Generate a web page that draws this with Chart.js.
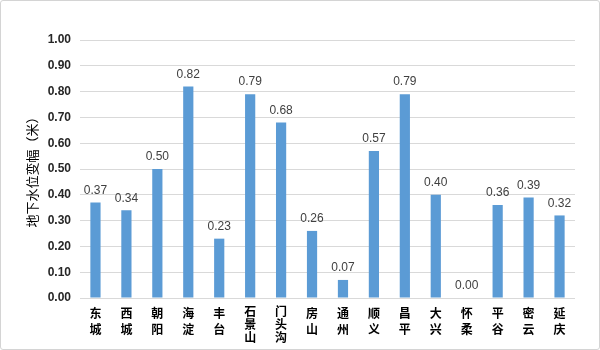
<!DOCTYPE html>
<html lang="zh">
<head>
    <meta charset="UTF-8">
    <title>地下水位变幅</title>
</head>
<body>

<div id="wrap">
    <canvas id="myChart"></canvas>
</div>

<script src="https://cdn.jsdelivr.net/npm/chart.js"></script>

<script>
    // 各区名称（竖排，每个字一行）
    const districts = [
        ['东', '城'], ['西', '城'], ['朝', '阳'], ['海', '淀'], ['丰', '台'],
        ['石', '景', '山'], ['门', '头', '沟'], ['房', '山'], ['通', '州'], ['顺', '义'],
        ['昌', '平'], ['大', '兴'], ['怀', '柔'], ['平', '谷'], ['密', '云'], ['延', '庆']
    ];
    const changes = [0.37, 0.34, 0.50, 0.82, 0.23, 0.79, 0.68, 0.26, 0.07, 0.57, 0.79, 0.40, 0.00, 0.36, 0.39, 0.32];
    const yTicks = [0, 0.1, 0.2, 0.3, 0.4, 0.5, 0.6, 0.7, 0.8, 0.9, 1.0];

    const cjk = '"Noto Sans CJK SC", "Microsoft YaHei", sans-serif';

    // 柱顶数值
    const valueLabels = {
        id: 'valueLabels',
        afterDatasetsDraw(chart) {
            const ctx = chart.ctx;
            const meta = chart.getDatasetMeta(0);
            ctx.save();
            ctx.font = '12px "Liberation Sans", Arial, sans-serif';
            ctx.fillStyle = '#404040';
            ctx.textAlign = 'center';
            ctx.textBaseline = 'bottom';
            meta.data.forEach((bar, i) => {
                ctx.fillText(changes[i].toFixed(2), bar.x, bar.y - 6);
            });
            ctx.restore();
        }
    };

    new Chart(document.getElementById('myChart'), {
        type: 'bar',
        data: {
            labels: districts,
            datasets: [{
                data: changes,
                backgroundColor: '#5B9BD5',
                categoryPercentage: 1,
                barPercentage: 0.33
            }]
        },
        options: {
            responsive: true,
            maintainAspectRatio: false,
            animation: false,
            layout: {padding: {left: 19, right: 24, top: 39, bottom: 0}},
            plugins: {
                legend: {display: false},
                tooltip: {enabled: false}
            },
            scales: {
                x: {
                    grid: {display: false, drawTicks: false},
                    border: {display: false},
                    ticks: {
                        color: '#000',
                        padding: 7,
                        maxRotation: 0,
                        autoSkip: false,
                        // 三字地名行距压紧
                        font: ctx => ({
                            family: cjk,
                            size: 12,
                            weight: 'bold',
                            lineHeight: districts[ctx.index].length > 2 ? '13px' : '16px'
                        })
                    },
                    afterFit(scale) { scale.height = 51; }
                },
                y: {
                    min: 0,
                    max: 1,
                    afterBuildTicks(scale) { scale.ticks = yTicks.map(v => ({value: v})); },
                    grid: {color: '#d9d9d9', drawTicks: false},
                    border: {display: false},
                    ticks: {
                        color: '#262626',
                        padding: 9,
                        font: {family: '"Liberation Sans", Arial, sans-serif', size: 12, weight: 'bold'},
                        callback: v => v.toFixed(2)
                    },
                    title: {
                        display: true,
                        text: '地下水位变幅（米）',
                        color: '#000',
                        font: {family: cjk, size: 13},
                        padding: {top: 4, bottom: 4}
                    },
                    afterFit(scale) { scale.width = 60; }
                }
            }
        },
        plugins: [valueLabels]
    });
</script>

<style>
    body {
        margin: 0;
        background: #fff;
    }

    #wrap {
        width: 598px;
        height: 348px;
        border: 1px solid #d4d4d4;
        border-radius: 3px;
    }
</style>
</html>
